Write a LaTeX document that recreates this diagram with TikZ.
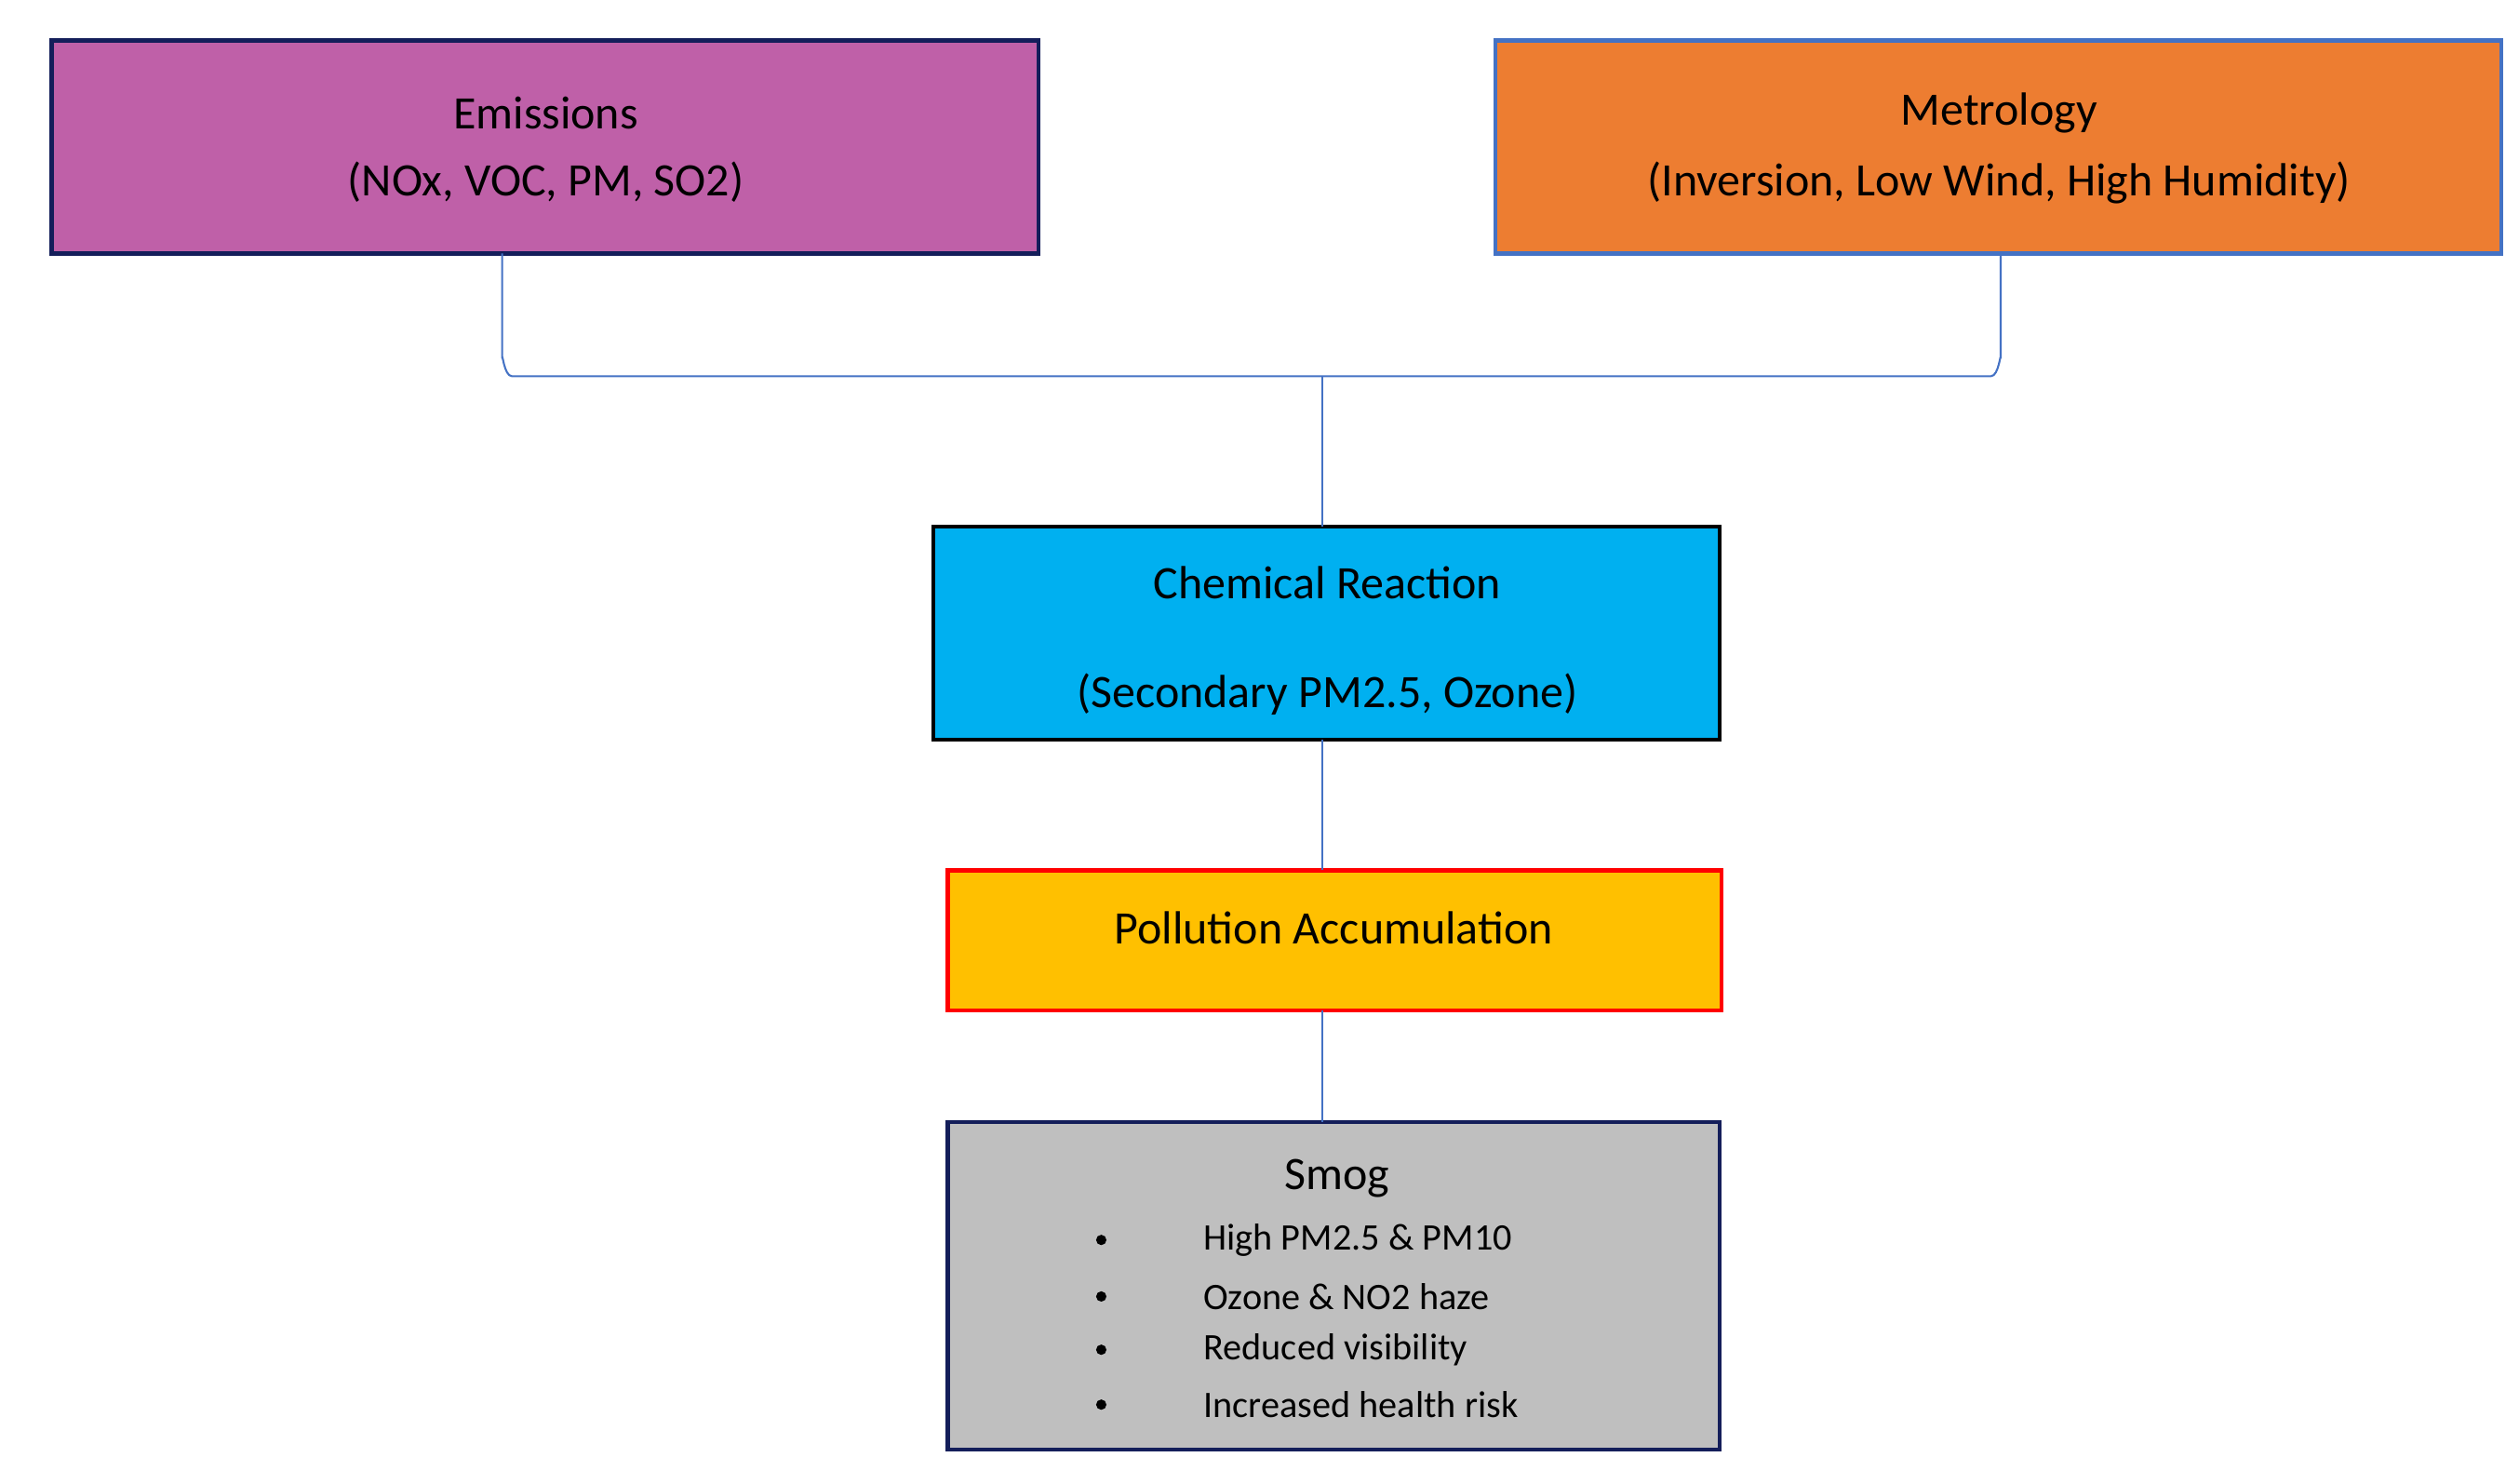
\documentclass[tikz,border=0pt]{standalone}
\usepackage{fontspec}
\setmainfont{Carlito}
\begin{document}
\begin{tikzpicture}[x=0.1mm,y=-0.1mm,
  box/.style={draw,line width=0.25mm,inner sep=0pt},
  conn/.style={draw=blue!40!cyan!60!black,color={rgb,255:red,68;green,114;blue,196},line width=0.1mm},
  big/.style={font=\fontsize{8.2pt}{9pt}\selectfont},
  small/.style={font=\fontsize{6.6pt}{7pt}\selectfont,anchor=west}]
\definecolor{purp}{RGB}{191,96,168}
\definecolor{orng}{RGB}{237,125,49}
\definecolor{cyanb}{RGB}{0,176,240}
\definecolor{gold}{RGB}{255,192,0}
\definecolor{navy}{RGB}{20,30,90}
\definecolor{bl}{RGB}{68,114,196}
\useasboundingbox (0,0) rectangle (1560,919);
\draw[box,fill=purp,draw=navy] (32,25) rectangle (643,157);
\node[coordinate] (e) at (311,157) {};
\node[big] (et1) at (338,70) {Emissions};
\node[big] (et2) at (338,113) {(NOx, VOC, PM, SO2)};
\draw[box,fill=orng,draw=bl] (926,25) rectangle (1549,157);
\node[coordinate] (m) at (1239,157) {};
\node[big] (mt1) at (1238,70) {Metrology};
\node[big] (mt2) at (1238,113) {(Inversion, Low Wind, High Humidity)};
\draw[box,fill=cyanb,draw=black] (578,326) rectangle (1065,458);
\node[coordinate] (ct) at (819,326) {};
\node[coordinate] (cb) at (819,458) {};
\node[big] (c1) at (822,361) {Chemical Reaction};
\node[big] (c2) at (822,430) {(Secondary PM2.5, Ozone)};
\draw[box,fill=gold,draw=red] (587,539) rectangle (1066,626);
\node[coordinate] (pt) at (819,539) {};
\node[coordinate] (pb) at (819,626) {};
\node[big] (p1) at (826,575) {Pollution Accumulation};
\draw[box,fill=black!25,draw=navy] (587,695) rectangle (1065,898);
\node[coordinate] (st) at (819,695) {};
\node[big] (s0) at (828,730) {Smog};
\foreach \y/\t [count=\i] in {768/High PM2.5 \& PM10,803/Ozone \& NO2 haze,836/Reduced visibility,870/Increased health risk}{
  \fill (682,\y) circle (3.2);
  \node[small] (s\i) at (733,\y) {\t};
}
\node[coordinate] (j) at (819,233) {};
\draw[bl,line width=0.12mm] (e) -- (311,222) to[out=90,in=180] (317,233) -- (1233,233) to[out=0,in=90] (1239,222) -- (m);
\draw[bl,line width=0.12mm] (j) -- (ct);
\draw[bl,line width=0.12mm] (cb) -- (pt);
\draw[bl,line width=0.12mm] (pb) -- (st);
\end{tikzpicture}
\end{document}
